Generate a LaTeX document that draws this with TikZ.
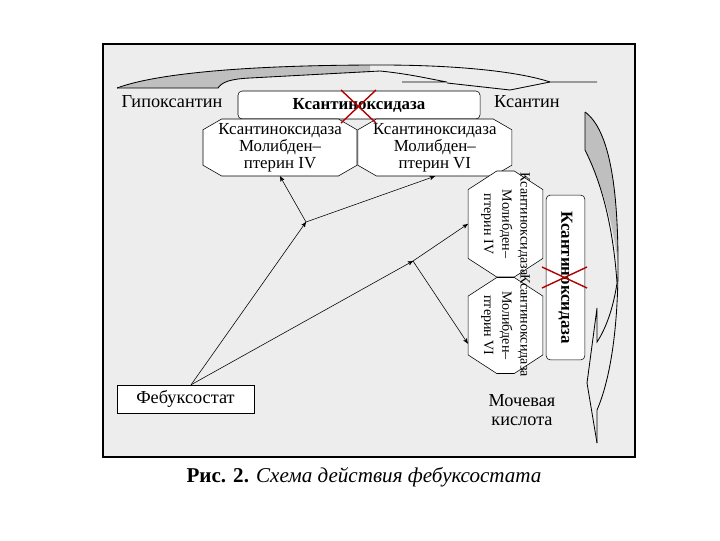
\documentclass[tikz,border=0pt]{standalone}
\usepackage{fontspec}
\setmainfont{Liberation Serif}
\usetikzlibrary{arrows,shapes.misc}

\begin{document}
\begin{tikzpicture}[x=0.025cm,y=-0.025cm,>=stealth',node distance=3.87cm,
  every node/.style={font=\fontsize{12}{12}\selectfont},
  octa/.style={chamfered rectangle,chamfered rectangle angle=60,chamfered rectangle xsep=0.28cm,draw,thin,fill=white,align=center,inner sep=0pt,minimum width=3.85cm,minimum height=1.32cm},
  vocta/.style={octa,rotate=-90,chamfered rectangle angle=33,chamfered rectangle xsep=0.42cm,inner xsep=-0.6cm,minimum width=2.65cm,minimum height=1.87cm,font=\fontsize{10}{13}\selectfont},
  enzbox/.style={draw,thin,fill=white,rounded corners=3pt,font=\bfseries\fontsize{12}{12}\selectfont},
  lbl/.style={font=\fontsize{13}{14}\selectfont,align=center},
  cross/.style={draw=red!70!black,line width=1pt},
  band/.style={draw,line width=0.6pt},
  link/.style={->,thin}]

\useasboundingbox (0,0) rectangle (720,540);
\filldraw[fill=black!7,line width=1.2pt] (103,44) rectangle (635,457);

% top curved arrow
\fill[black!25] (117,88) .. controls (160,72) and (260,65) .. (370,65) -- (370,72) -- (250,78) .. controls (230,79) and (222,82) .. (218,88) -- cycle;
\draw[band] (117,88) .. controls (160,72) and (260,65) .. (380,65) .. controls (460,65) and (520,72) .. (550,82) -- (597,82);
\draw[band] (117,88) -- (218,88) .. controls (222,82) and (230,79) .. (250,78) -- (380,71) .. controls (410,74) and (430,79) .. (447,82) -- (402,82);
\draw[band] (447,83) -- (510,90) -- (550,82);

% right curved arrow
\fill[black!25] (585,112) -- (585,150) .. controls (595,170) and (612,210) .. (618,265) .. controls (618,190) and (610,130) .. (585,112);
\draw[band] (585,112) .. controls (610,130) and (618,190) .. (618,265) .. controls (618,330) and (610,380) .. (597,410) -- (597,443);
\draw[band] (585,112) -- (585,150) .. controls (595,170) and (612,210) .. (617,283) .. controls (613,310) and (605,330) .. (597,342) -- (597,308) -- (587,383) -- (597,443);

\node[enzbox,minimum width=6.05cm,minimum height=0.7cm] (kx) at (359,105) {Ксантиноксидаза};
\node[lbl] (hyp) at (172,102) {Гипоксантин};
\node[lbl] (xan) at (527,102) {Ксантин};

\node[octa] (mo4) at (280,147.5) {Ксантиноксидаза\\Молибден–\\птерин IV};
\node[octa] (mo6) [right of=mo4] {Ксантиноксидаза\\Молибден–\\птерин VI};

\node[vocta] (vmo4) at (505.5,224) {Ксантиноксидаза\\Молибден–\\птерин IV};
\node[vocta,minimum width=2.4cm] (vmo6) at (505.5,325.5) {Ксантиноксидаза\\Молибден–\\птерин VI};
\node[enzbox,rotate=-90,minimum width=4.12cm,minimum height=0.97cm] (kv) at (565.5,277.5) {Ксантиноксидаза};

\node[lbl] (uric) at (522,410) {Мочевая\\кислота};
\node[draw,thin,fill=white,minimum width=3.42cm,minimum height=0.7cm,lbl] (feb) at (185.5,399) {Фебуксостат};

\coordinate (j1) at (306,222);
\coordinate (j2) at (413,261);

\path[link] ([xshift=0.14cm]feb.north) edge (j1) edge (j2)
      (j1) edge (mo4.south) edge (mo6.south)
      (j2) edge (vmo4.south) edge ([yshift=-0.45cm]vmo6.south);

\draw[cross] (341,90) -- (376,123) (376,90) -- (341,123);
\draw[cross] (542,267) -- (587,288) (542,288) -- (587,267);

\node[font=\fontsize{15}{15}\selectfont] (cap) at (364,477) {\textbf{Рис. 2.} \textit{Схема действия фебуксостата}};
\end{tikzpicture}
\end{document}
